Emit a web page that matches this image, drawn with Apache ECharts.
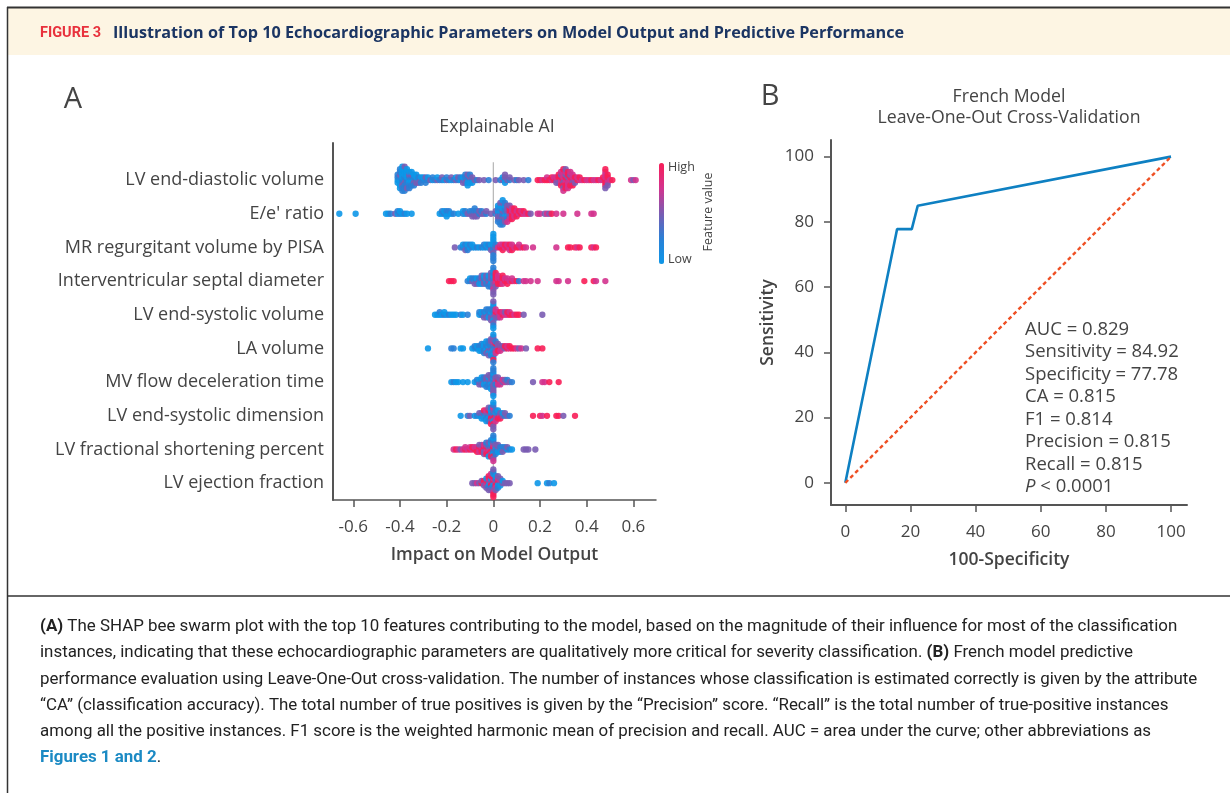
<!DOCTYPE html>
<html><head><meta charset="utf-8">
<script src="https://cdn.jsdelivr.net/npm/echarts@6/dist/echarts.min.js"></script>
<style>html,body{margin:0;padding:0;background:#fff}#c{width:1230px;height:793px}</style>
</head><body><div id="c"></div>
<script>
// ---------- DATA ----------
// Feature names, top to bottom
const features = ['LV end-diastolic volume', "E/e' ratio", 'MR regurgitant volume by PISA',
  'Interventricular septal diameter', 'LV end-systolic volume', 'LA volume',
  'MV flow deceleration time', 'LV end-systolic dimension', 'LV fractional shortening percent',
  'LV ejection fraction'];

// SHAP bins per feature: [SHAP value, feature-value level of each point in that bin (0 = low ... 4 = high)]
const lvEdv = [[-0.41,'0101'],[-0.40,'01020101'],[-0.39,'1010201010'],[-0.38,'0120101012'],[-0.37,'10101020'],
  [-0.36,'0102101'],[-0.35,'010210'],[-0.34,'01201'],[-0.33,'1020'],[-0.32,'012'],[-0.31,'201'],[-0.30,'10'],
  [-0.29,'021'],[-0.28,'10'],[-0.27,'2'],[-0.26,'01'],[-0.25,'1'],[-0.24,'20'],[-0.23,'1'],[-0.22,'12'],
  [-0.21,'0'],[-0.20,'21'],[-0.19,'1'],[-0.18,'02'],[-0.17,'1'],[-0.16,'20'],[-0.15,'12'],[-0.14,'01'],
  [-0.13,'102'],[-0.12,'0121'],[-0.11,'21020'],[-0.10,'1201'],[-0.09,'120'],[-0.08,'2'],[-0.07,'1'],
  [-0.06,'2'],[-0.04,'2'],[-0.02,'1'],[0.01,'2'],[0.03,'1'],[0.04,'20'],[0.05,'1202'],[0.06,'2'],[0.07,'12'],
  [0.09,'2'],[0.10,'1'],[0.11,'2'],[0.13,'2'],[0.15,'1'],[0.19,'4'],[0.20,'4'],[0.21,'3'],[0.22,'4'],
  [0.23,'43'],[0.24,'4'],[0.25,'34'],[0.26,'43'],[0.27,'432'],[0.28,'3424'],[0.29,'343243'],
  [0.30,'432343243'],[0.31,'34324342'],[0.32,'4234343'],[0.33,'343243'],[0.34,'43234'],[0.35,'342'],
  [0.36,'43'],[0.37,'34'],[0.38,'3'],[0.39,'4'],[0.40,'3'],[0.41,'3'],[0.42,'4'],[0.43,'3'],[0.44,'3'],
  [0.45,'4'],[0.46,'3'],[0.47,'34'],[0.48,'43434324'],[0.49,'34342'],[0.50,'3'],[0.51,'4'],
  [0.59,'3'],[0.60,'2'],[0.61,'3']];
const eeRatio = [[-0.66,'0'],[-0.59,'0'],[-0.46,'0'],[-0.45,'0'],[-0.44,'1'],[-0.42,'2'],[-0.41,'01'],
  [-0.40,'10'],[-0.39,'0'],[-0.38,'1'],[-0.37,'0'],[-0.35,'0'],[-0.23,'0'],[-0.22,'01'],[-0.21,'10'],
  [-0.20,'010'],[-0.19,'01'],[-0.18,'0'],[-0.17,'1'],[-0.15,'0'],[-0.13,'10'],[-0.12,'01'],[-0.11,'2'],
  [-0.10,'21'],[-0.09,'212'],[-0.08,'2121'],[-0.07,'212'],[-0.06,'12'],[-0.05,'21'],[-0.04,'2'],
  [-0.03,'12'],[-0.01,'2'],[0.01,'12'],[0.02,'1021201'],[0.03,'102120121'],[0.04,'1210201210'],
  [0.05,'21012021'],[0.06,'1202123'],[0.07,'342432'],[0.08,'43434'],[0.09,'3434'],[0.10,'434'],
  [0.11,'34'],[0.12,'43'],[0.13,'34'],[0.14,'3'],[0.15,'4'],[0.16,'2'],[0.19,'3'],[0.20,'3'],[0.22,'2'],
  [0.23,'3'],[0.24,'2'],[0.25,'4'],[0.27,'3'],[0.30,'3'],[0.36,'3'],[0.42,'3'],[0.43,'3']];
const mrPisa = [[-0.165,'2'],[-0.14,'1'],[-0.13,'10'],[-0.12,'012'],[-0.11,'101'],[-0.10,'01'],[-0.09,'10'],
  [-0.08,'0'],[-0.07,'1'],[-0.06,'0'],[-0.05,'1'],[-0.04,'01'],[-0.03,'10'],[-0.02,'01'],[-0.01,'102'],
  [0.00,'10102010101'],[0.01,'21'],[0.02,'3'],[0.03,'43'],[0.04,'434'],[0.05,'34'],[0.06,'43'],[0.07,'343'],
  [0.08,'434'],[0.09,'3'],[0.10,'4'],[0.11,'43'],[0.12,'3'],[0.13,'4'],[0.14,'3'],[0.17,'3'],[0.27,'3'],
  [0.32,'4'],[0.33,'4'],[0.35,'4'],[0.36,'3'],[0.37,'4'],[0.42,'4'],[0.43,'3'],[0.44,'4']];
const ivsd = [[-0.19,'4'],[-0.18,'4'],[-0.17,'4'],[-0.11,'1'],[-0.10,'10'],[-0.09,'21'],[-0.08,'012'],
  [-0.07,'102'],[-0.06,'210'],[-0.05,'1202'],[-0.04,'2120'],[-0.03,'0212'],[-0.02,'21201'],[-0.01,'120212'],
  [0.00,'21202130212'],[0.01,'343424'],[0.02,'4343'],[0.03,'434'],[0.04,'3434'],[0.05,'43'],[0.06,'434'],
  [0.07,'3'],[0.08,'43'],[0.09,'3'],[0.10,'4'],[0.11,'1'],[0.13,'3'],[0.14,'3'],[0.16,'3'],[0.19,'3'],
  [0.27,'3'],[0.28,'3'],[0.32,'3'],[0.39,'4'],[0.43,'4'],[0.44,'3'],[0.48,'3']];
const lvEsv = [[-0.25,'0'],[-0.24,'0'],[-0.23,'01'],[-0.22,'0'],[-0.21,'10'],[-0.20,'0'],[-0.19,'1'],
  [-0.18,'0'],[-0.17,'0'],[-0.16,'0'],[-0.14,'1'],[-0.13,'0'],[-0.11,'1'],[-0.06,'01'],[-0.05,'10'],
  [-0.04,'012'],[-0.03,'1021'],[-0.02,'2101'],[-0.01,'10212'],[0.00,'01210120120'],[0.01,'3423'],
  [0.02,'432'],[0.03,'343'],[0.04,'43'],[0.05,'32'],[0.06,'34'],[0.07,'43'],[0.08,'4'],[0.09,'3'],
  [0.10,'4'],[0.11,'4'],[0.13,'2'],[0.21,'2']];
const laVol = [[-0.28,'0'],[-0.18,'1'],[-0.17,'1'],[-0.14,'0'],[-0.13,'0'],[-0.09,'0'],[-0.08,'01'],
  [-0.07,'10'],[-0.06,'010'],[-0.05,'0101'],[-0.04,'10101'],[-0.03,'010120'],[-0.02,'1021012'],
  [-0.01,'01210212'],[0.00,'2102130212401'],[0.01,'212431'],[0.02,'3242'],[0.03,'423'],[0.04,'32'],
  [0.05,'24'],[0.06,'43'],[0.07,'34'],[0.08,'4'],[0.09,'4'],[0.10,'3'],[0.11,'2'],[0.12,'3'],[0.14,'2'],
  [0.19,'4'],[0.21,'4']];
const mvDt = [[-0.18,'0'],[-0.17,'1'],[-0.16,'0'],[-0.15,'0'],[-0.13,'0'],[-0.11,'0'],[-0.08,'0'],
  [-0.07,'01'],[-0.06,'102'],[-0.05,'0120'],[-0.04,'2101'],[-0.03,'12021'],[-0.02,'021012'],
  [-0.01,'1202120'],[0.00,'0120212021210'],[0.01,'2312'],[0.02,'2432'],[0.03,'323'],[0.04,'23'],
  [0.05,'32'],[0.06,'21'],[0.07,'2'],[0.08,'1'],[0.17,'2'],[0.21,'3'],[0.22,'3'],[0.24,'4'],[0.28,'4']];
const lvEsd = [[-0.14,'0'],[-0.11,'1'],[-0.10,'2'],[-0.08,'0'],[-0.07,'1'],[-0.06,'02'],[-0.05,'120'],
  [-0.04,'2104'],[-0.03,'02130'],[-0.02,'120412'],[-0.01,'2140214'],[0.00,'21420341202'],[0.01,'40213'],
  [0.02,'2140'],[0.03,'324'],[0.04,'20'],[0.05,'12'],[0.06,'2'],[0.07,'1'],[0.17,'4'],[0.20,'4'],
  [0.21,'3'],[0.23,'4'],[0.27,'4'],[0.28,'4'],[0.30,'2'],[0.35,'4']];
const lvFs = [[-0.17,'3'],[-0.16,'4'],[-0.15,'3'],[-0.14,'2'],[-0.13,'3'],[-0.12,'43'],[-0.11,'3'],
  [-0.10,'43'],[-0.09,'34'],[-0.08,'43'],[-0.07,'434'],[-0.06,'3432'],[-0.05,'4342'],[-0.04,'34232'],
  [-0.03,'243241'],[-0.02,'4231420'],[-0.01,'32412041'],[0.00,'241302412031'],[0.01,'20121'],
  [0.02,'1202'],[0.03,'210'],[0.04,'012'],[0.05,'21'],[0.06,'02'],[0.07,'1'],[0.08,'0'],[0.13,'2'],
  [0.14,'2'],[0.15,'2'],[0.18,'2']];
const lvEf = [[-0.09,'2'],[-0.08,'2'],[-0.07,'3'],[-0.06,'2'],[-0.05,'42'],[-0.04,'342'],[-0.03,'24302'],
  [-0.02,'4203142'],[-0.01,'32401423'],[0.00,'2403142031424'],[0.01,'3241302'],[0.02,'240312'],
  [0.03,'1302'],[0.04,'20'],[0.05,'2'],[0.06,'2'],[0.07,'2'],[0.19,'0'],[0.23,'0'],[0.24,'1'],[0.26,'0']];
const swarmRows = [lvEdv, eeRatio, mrPisa, ivsd, lvEsv, laVol, mvDt, lvEsd, lvFs, lvEf];

const xTicksA = [-0.6, -0.4, -0.2, 0, 0.2, 0.4, 0.6];

// ROC curve (panel B)
const rocX = [0, 15.9, 20.4, 22.22, 100];
const rocY = [0, 77.78, 77.78, 84.92, 100];
const chanceX = [0, 100];
const chanceY = [0, 100];
const ticksB = [0, 20, 40, 60, 80, 100];
const stats = ['AUC = 0.829', 'Sensitivity = 84.92', 'Specificity = 77.78', 'CA = 0.815',
  'F1 = 0.814', 'Precision = 0.815', 'Recall = 0.815'];

// ---------- BUILD ----------
const FONT = '"Open Sans", "Noto Sans", sans-serif';
const CAPF = 'Roboto, "Liberation Sans", sans-serif';
const nRows = features.length;

// beeswarm layout: points in the same bin stacked 0, +1, -1, +2, -2 ...
const swarm = [];
swarmRows.forEach((bins, r) => {
  const base = nRows - 1 - r;
  let maxHalf = 0;
  bins.forEach(b => { maxHalf = Math.max(maxHalf, Math.ceil((b[1].length - 1) / 2)); });
  const step = 0.48 / (maxHalf + 1);
  bins.forEach(([v, codes]) => {
    for (let j = 0; j < codes.length; j++) {
      const layer = Math.ceil(j / 2) * (j % 2 ? 1 : -1);
      swarm.push([v, base + layer * step, +codes[j]]);
    }
  });
});

const axisCol = '#555';
const txtCol = '#444';

const chart = echarts.init(document.getElementById('c'));
const capLines = [
  '{b|(A)} The SHAP bee swarm plot with the top 10 features contributing to the model, based on the magnitude of their influence for most of the classification',
  'instances, indicating that these echocardiographic parameters are qualitatively more critical for severity classification. {b|(B)} French model predictive',
  'performance evaluation using Leave-One-Out cross-validation. The number of instances whose classification is estimated correctly is given by the attribute',
  '\u201cCA\u201d (classification accuracy). The total number of true positives is given by the \u201cPrecision\u201d score. \u201cRecall\u201d is the total number of true-positive instances',
  'among all the positive instances. F1 score is the weighted harmonic mean of precision and recall. AUC = area under the curve; other abbreviations as',
  '{l|Figures 1 and 2}.'
];
const CAPS = 16.9;
const capRich = {
  b: {fontWeight: 'bold', fontFamily: CAPF, fontSize: CAPS, fill: '#222'},
  l: {fontWeight: 'bold', fontFamily: CAPF, fontSize: CAPS, fill: '#1b8ac4'}
};
const T = (x, y, text, size, extra) => Object.assign({type: 'text', x: x, y: y,
  style: Object.assign({text: text, fill: txtCol, fontFamily: FONT, fontSize: size,
    align: 'center', verticalAlign: 'middle', textAlign: 'center', textVerticalAlign: 'middle'}, (extra && extra.style) || {})},
  (extra && extra.el) || {});

const graphics = [
  {type: 'rect', shape: {x: 8, y: 8, width: 1222, height: 47}, style: {fill: '#fdf5e3'}, silent: true},
  {type: 'line', shape: {x1: 7, y1: 7.5, x2: 1230, y2: 7.5}, style: {stroke: '#333', lineWidth: 2}},
  {type: 'line', shape: {x1: 7.5, y1: 7, x2: 7.5, y2: 793}, style: {stroke: '#333', lineWidth: 1.5}},
  {type: 'line', shape: {x1: 7, y1: 596, x2: 1230, y2: 596}, style: {stroke: '#333', lineWidth: 1.5}},
  T(40, 33, 'FIGURE 3', 14.5, {style: {fill: '#e8313c', fontFamily: CAPF, fontWeight: 'bold', align: 'left', textAlign: 'left'}}),
  T(113, 33, 'Illustration of Top 10 Echocardiographic Parameters on Model Output and Predictive Performance', 16.2,
    {style: {fill: '#1b3563', fontFamily: FONT, fontWeight: 'bold', align: 'left', textAlign: 'left'}}),
  T(73, 100, 'A', 29),
  T(770, 97, 'B', 29),
  T(497, 127, 'Explainable AI', 17.7, {style: {fontWeight: 500}}),
  T(1009, 97, 'French Model', 17.7, {style: {fontWeight: 500}}),
  T(1009, 118, 'Leave-One-Out Cross-Validation', 17.7, {style: {fontWeight: 500}}),
  T(668, 167, 'High', 12.5, {style: {align: 'left', textAlign: 'left'}}),
  T(668, 259, 'Low', 12.5, {style: {align: 'left', textAlign: 'left'}}),
  T(708, 212, 'Feature value', 12.5, {el: {rotation: Math.PI / 2}}),
  T(1025, 318, stats.join('\n') + '\n{i|P} < 0.0001', 18.5, {style: {align: 'left', textAlign: 'left', verticalAlign: 'top', textVerticalAlign: 'top', lineHeight: 22.5,
    rich: {i: {fontStyle: 'italic', fontFamily: FONT, fontSize: 18.5, fill: txtCol, lineHeight: 22.5}}}})
];
capLines.forEach((t, i) => {
  graphics.push(T(40, 627 + i * 26.2, t, CAPS, {style: {fill: '#222', fontFamily: CAPF, align: 'left', textAlign: 'left', rich: capRich}}));
});

const option = {
  animation: false,
  backgroundColor: '#fff',
  textStyle: {fontFamily: FONT},
  grid: [
    {left: 333, top: 143, width: 323, height: 357},
    {left: 831, top: 140, width: 356, height: 365}
  ],
  xAxis: [
    {gridIndex: 0, type: 'value', min: -0.687, max: 0.697,
      axisLine: {show: true, onZero: false, lineStyle: {color: axisCol, width: 1.5}},
      axisTick: {show: true, length: 7, customValues: xTicksA, lineStyle: {color: axisCol, width: 1.5}},
      axisLabel: {customValues: xTicksA, color: txtCol, fontSize: 17, fontFamily: FONT, margin: 19,
        formatter: v => (Math.abs(v) < 1e-9 ? '0' : v.toFixed(1))},
      splitLine: {show: false},
      name: 'Impact on Model Output', nameLocation: 'middle', nameGap: 46,
      nameTextStyle: {color: txtCol, fontSize: 17.5, fontWeight: 600, fontFamily: FONT}},
    {gridIndex: 1, type: 'value', min: -4.4, max: 104.9,
      axisLine: {show: true, onZero: false, lineStyle: {color: axisCol, width: 2}},
      axisTick: {show: true, length: 7, customValues: ticksB, lineStyle: {color: axisCol, width: 1.5}},
      axisLabel: {customValues: ticksB, color: txtCol, fontSize: 17, fontFamily: FONT, margin: 19},
      splitLine: {show: false},
      name: '100-Specificity', nameLocation: 'middle', nameGap: 46,
      nameTextStyle: {color: txtCol, fontSize: 17.5, fontWeight: 600, fontFamily: FONT}}
  ],
  yAxis: [
    {gridIndex: 0, type: 'value', min: -0.5, max: 10.1,
      axisLine: {show: true, onZero: false, lineStyle: {color: axisCol, width: 2}},
      axisTick: {show: false},
      axisLabel: {customValues: [0, 1, 2, 3, 4, 5, 6, 7, 8, 9], color: txtCol, fontSize: 18, fontFamily: FONT, margin: 9,
        formatter: v => features[nRows - 1 - Math.round(v)]},
      splitLine: {show: false}},
    {gridIndex: 1, type: 'value', min: -6.8, max: 105.1,
      axisLine: {show: true, onZero: false, lineStyle: {color: axisCol, width: 2}},
      axisTick: {show: true, length: 7, customValues: ticksB, lineStyle: {color: axisCol, width: 1.5}},
      axisLabel: {customValues: ticksB, color: txtCol, fontSize: 17, fontFamily: FONT, margin: 17},
      splitLine: {show: false},
      name: 'Sensitivity', nameLocation: 'middle', nameGap: 54, nameRotate: 90,
      nameTextStyle: {color: txtCol, fontSize: 17.5, fontWeight: 600, fontFamily: FONT}}
  ],
  visualMap: {
    type: 'continuous', seriesIndex: 1, dimension: 2, min: 0, max: 4,
    left: 659, top: 163, itemWidth: 5, itemHeight: 101, padding: 0,
    calculable: false, text: null, showLabel: false, hoverLink: false,
    inRange: {color: ['#0d97e8', '#2a80d6', '#7a5cb2', '#d3338e', '#f81e58']}
  },
  series: [
    {type: 'line', xAxisIndex: 0, yAxisIndex: 0, data: [[0, -0.5], [0, 9.53]], symbol: 'none', silent: true,
      lineStyle: {color: '#b5b5b5', width: 1.2}, z: 1},
    {type: 'scatter', xAxisIndex: 0, yAxisIndex: 0, data: swarm, symbolSize: 6.3, z: 3,
      itemStyle: {opacity: 0.9}},
    {type: 'line', xAxisIndex: 1, yAxisIndex: 1, data: rocX.map((x, i) => [x, rocY[i]]), symbol: 'none',
      lineStyle: {color: '#0e80c2', width: 2.6}, z: 3},
    {type: 'line', xAxisIndex: 1, yAxisIndex: 1, data: chanceX.map((x, i) => [x, chanceY[i]]), symbol: 'none',
      lineStyle: {color: '#ef5024', width: 2.4, type: [4, 3]}, z: 4}
  ],
  graphic: graphics
};
chart.setOption(option);
</script></body></html>
